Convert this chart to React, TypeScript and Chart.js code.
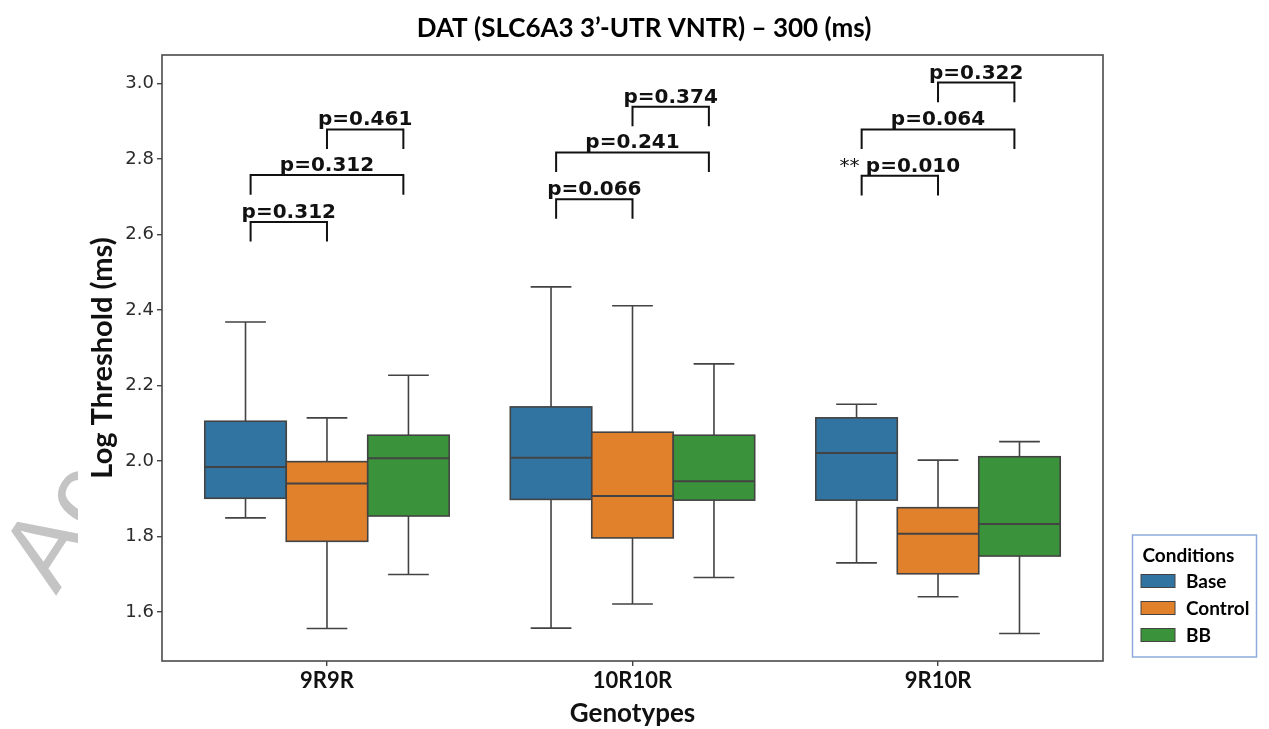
import React, { useEffect, useRef } from 'react';
import { Chart, registerables } from 'chart.js';

Chart.register(...registerables);

// ---------- data ----------
const GENOTYPES = ['9R9R', '10R10R', '9R10R'];
const CONDITIONS = ['Base', 'Control', 'BB'];
const COLORS = ['#3274a1', '#e1812c', '#3a923a'];

// [lower whisker, Q1, median, Q3, upper whisker] for 9R9R, 10R10R, 9R10R
const BASE_STATS = [
  [1.849, 1.901, 1.984, 2.105, 2.368],
  [1.557, 1.898, 2.008, 2.143, 2.461],
  [1.730, 1.896, 2.021, 2.114, 2.150],
];
const CONTROL_STATS = [
  [1.556, 1.787, 1.940, 1.998, 2.114],
  [1.621, 1.796, 1.907, 2.076, 2.411],
  [1.640, 1.701, 1.807, 1.876, 2.002],
];
const BB_STATS = [
  [1.699, 1.854, 2.007, 2.068, 2.227],
  [1.691, 1.896, 1.946, 2.068, 2.257],
  [1.543, 1.748, 1.833, 2.011, 2.051],
];

const Y_TICKS = [1.6, 1.8, 2.0, 2.2, 2.4, 2.6, 2.8, 3.0];

// comparisons: Base–Control, Base–BB, Control–BB
const PAIRS = [[0, 1], [0, 2], [1, 2]];
const P_9R9R = ['p=0.312', 'p=0.312', 'p=0.461'];
const P_10R10R = ['p=0.066', 'p=0.241', 'p=0.374'];
const P_9R10R = ['p=0.010', 'p=0.064', 'p=0.322'];
const STARS_9R9R = ['', '', ''];
const STARS_10R10R = ['', '', ''];
const STARS_9R10R = ['**', '', ''];
const H_9R9R = [2.633, 2.757, 2.878];
const H_10R10R = [2.693, 2.817, 2.938];
const H_9R10R = [2.755, 2.878, 3.002];

const TITLE = 'DAT (SLC6A3 3\u2019-UTR VNTR) \u2013 300 (ms)';
const X_TITLE = 'Genotypes';
const Y_TITLE = 'Log Threshold (ms)';
const LEGEND_TITLE = 'Conditions';
const WATERMARK = 'Ac';

const STATS = [BASE_STATS, CONTROL_STATS, BB_STATS];
const P_LABELS = [P_9R9R, P_10R10R, P_9R10R];
const STARS = [STARS_9R9R, STARS_10R10R, STARS_9R10R];
const HEIGHTS = [H_9R9R, H_10R10R, H_9R10R];

// ---------- style ----------
const EDGE = '#434343';
const FRAME = '#4a4a4a';
const BOX_W = 0.8 / 3;
const BRACKET_STEP = 0.25;
const TIP = 0.052;

const boxPlugin = {
  id: 'boxes',
  afterDatasetsDraw(chart: any) {
    const { ctx, scales } = chart;
    const x = scales.x, y = scales.y;
    ctx.save();
    chart.data.datasets.forEach((ds: any, i: number) => {
      ds.stats.forEach((s: number[], j: number) => {
        const cx = j + (i - 1) * BOX_W;
        const left = x.getPixelForValue(cx - BOX_W / 2);
        const right = x.getPixelForValue(cx + BOX_W / 2);
        const xc = x.getPixelForValue(cx);
        const capL = x.getPixelForValue(cx - BOX_W / 4);
        const capR = x.getPixelForValue(cx + BOX_W / 4);
        const [lo, q1, med, q3, hi] = s.map((v) => y.getPixelForValue(v));
        ctx.lineWidth = 1.6;
        ctx.strokeStyle = EDGE;
        ctx.beginPath();
        ctx.moveTo(xc, q3); ctx.lineTo(xc, hi);
        ctx.moveTo(capL, hi); ctx.lineTo(capR, hi);
        ctx.moveTo(xc, q1); ctx.lineTo(xc, lo);
        ctx.moveTo(capL, lo); ctx.lineTo(capR, lo);
        ctx.stroke();
        ctx.fillStyle = ds.backgroundColor;
        ctx.fillRect(left, q3, right - left, q1 - q3);
        ctx.strokeRect(left, q3, right - left, q1 - q3);
        ctx.lineWidth = 2;
        ctx.beginPath();
        ctx.moveTo(left, med); ctx.lineTo(right, med);
        ctx.stroke();
      });
    });
    ctx.restore();
  },
};

const annotationPlugin = {
  id: 'annotations',
  afterDraw(chart: any) {
    const { ctx, scales, chartArea } = chart;
    const x = scales.x, y = scales.y;
    ctx.save();
    // frame
    ctx.strokeStyle = FRAME;
    ctx.lineWidth = 1.6;
    ctx.strokeRect(chartArea.left, chartArea.top, chartArea.right - chartArea.left, chartArea.bottom - chartArea.top);

    // brackets
    ctx.strokeStyle = '#111';
    ctx.fillStyle = '#111';
    ctx.lineWidth = 2;
    ctx.textBaseline = 'alphabetic';
    GENOTYPES.forEach((_, j) => {
      PAIRS.forEach((pair, k) => {
        const x1 = x.getPixelForValue(j + (pair[0] - 1) * BRACKET_STEP);
        const x2 = x.getPixelForValue(j + (pair[1] - 1) * BRACKET_STEP);
        const yl = y.getPixelForValue(HEIGHTS[j][k]);
        const yt = y.getPixelForValue(HEIGHTS[j][k] - TIP);
        ctx.beginPath();
        ctx.moveTo(x1, yt); ctx.lineTo(x1, yl); ctx.lineTo(x2, yl); ctx.lineTo(x2, yt);
        ctx.stroke();
        const label = P_LABELS[j][k];
        const star = STARS[j][k];
        const mid = (x1 + x2) / 2;
        ctx.font = 'bold 20px "DejaVu Sans"';
        const wb = ctx.measureText(label).width;
        let ws = 0;
        const starText = star ? star + ' ' : '';
        if (star) {
          ctx.font = '20px "DejaVu Sans"';
          ws = ctx.measureText(starText).width;
        }
        const start = mid - (wb + ws) / 2;
        ctx.textAlign = 'left';
        if (star) {
          ctx.font = '20px "DejaVu Sans"';
          ctx.fillText(starText, start, yl - 4);
        }
        ctx.font = 'bold 20px "DejaVu Sans"';
        ctx.fillText(label, start + ws, yl - 4);
      });
    });

    // title
    ctx.font = 'bold 26px Lato';
    ctx.textAlign = 'center';
    ctx.fillStyle = '#000';
    ctx.fillText(TITLE, 644, 36.5);

    // legend
    const lx = 1132.5, ly = 535, lw = 124, lh = 122;
    ctx.strokeStyle = '#8faadc';
    ctx.lineWidth = 1.5;
    ctx.strokeRect(lx, ly, lw, lh);
    ctx.textAlign = 'left';
    ctx.fillStyle = '#000';
    ctx.font = 'bold 19px Lato';
    ctx.fillText(LEGEND_TITLE, 1142.5, 562);
    chart.data.datasets.forEach((ds: any, i: number) => {
      const ry = 574.5 + i * 27;
      ctx.fillStyle = ds.backgroundColor;
      ctx.fillRect(1141, ry, 34, 13);
      ctx.strokeStyle = EDGE;
      ctx.lineWidth = 1;
      ctx.strokeRect(1141, ry, 34, 13);
      ctx.fillStyle = '#000';
      ctx.textBaseline = 'middle';
      ctx.fillText(ds.label, 1186, ry + 7);
      ctx.textBaseline = 'alphabetic';
    });

    // watermark fragment
    ctx.save();
    ctx.beginPath();
    ctx.rect(0, 0, 78, 729);
    ctx.clip();
    ctx.translate(56, 596);
    ctx.rotate((-57 * Math.PI) / 180);
    ctx.font = '106px "Liberation Sans"';
    ctx.fillStyle = '#c4c4c4';
    ctx.textAlign = 'left';
    ctx.fillText(WATERMARK, 0, 0);
    ctx.restore();

    ctx.restore();
  },
};

export default function App() {
  const ref = useRef<HTMLCanvasElement>(null);
  useEffect(() => {
    const canvas = ref.current;
    if (!canvas) return;
    const chart = new Chart(canvas, {
      type: 'scatter',
      data: {
        datasets: CONDITIONS.map((c, i) => ({
          label: c,
          data: [],
          backgroundColor: COLORS[i],
          stats: STATS[i],
        })) as any,
      },
      options: {
        responsive: false,
        animation: false,
        devicePixelRatio: 1,
        layout: { padding: { left: 0, right: 166, top: 55, bottom: 0 } },
        plugins: {
          legend: { display: false },
          tooltip: { enabled: false },
          title: { display: false },
        },
        scales: {
          x: {
            type: 'linear',
            min: -0.54,
            max: 2.54,
            afterBuildTicks: (s: any) => {
              s.ticks = GENOTYPES.map((_, i) => ({ value: i }));
            },
            afterFit: (s: any) => {
              s.height = 68;
            },
            grid: { display: true, drawOnChartArea: false, drawTicks: true, tickLength: 5, tickColor: '#444', color: '#444', lineWidth: 1.4 },
            border: { display: false },
            ticks: {
              callback: (v: any) => GENOTYPES[v] ?? '',
              color: '#111',
              font: { family: 'Lato', weight: 'bold', size: 22 },
              padding: 2,
              autoSkip: false,
              maxRotation: 0,
            },
            title: {
              display: true,
              text: X_TITLE,
              color: '#111',
              font: { family: 'Lato', weight: 'bold', size: 26 },
              padding: { top: 0, bottom: 0 },
            },
          },
          y: {
            type: 'linear',
            min: 1.47,
            max: 3.075,
            afterBuildTicks: (s: any) => {
              s.ticks = Y_TICKS.map((v) => ({ value: v }));
            },
            afterFit: (s: any) => {
              s.width = 162;
            },
            grid: { display: true, drawOnChartArea: false, drawTicks: true, tickLength: 5, tickColor: '#444', color: '#444', lineWidth: 1.4 },
            border: { display: false },
            ticks: {
              callback: (v: any) => Number(v).toFixed(1),
              color: '#2b2b2b',
              font: { family: 'DejaVu Sans', size: 18 },
              padding: 3,
            },
            title: {
              display: true,
              text: Y_TITLE,
              color: '#111',
              font: { family: 'Lato', weight: 'bold', size: 29 },
              padding: { top: 85, bottom: 0 },
            },
          },
        },
      } as any,
      plugins: [boxPlugin, annotationPlugin],
    });
    return () => chart.destroy();
  }, []);
  return (
    <div style={{ position: 'absolute', left: 0, top: 0, width: 1269, height: 729, background: '#fff' }}>
      <canvas ref={ref} width={1269} height={729} style={{ display: 'block' }} />
    </div>
  );
}
